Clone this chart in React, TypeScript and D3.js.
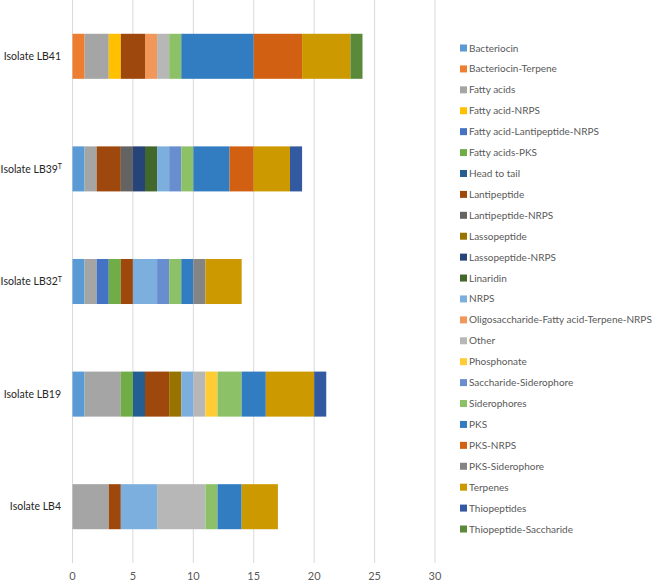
import React from "react";
import * as d3 from "d3";

const isolates = ["Isolate LB41", "Isolate LB39", "Isolate LB32", "Isolate LB19", "Isolate LB4"];
const superscripts = ["", "T", "T", "", ""];

const seriesNames = [
  "Bacteriocin", "Bacteriocin-Terpene", "Fatty acids", "Fatty acid-NRPS",
  "Fatty acid-Lantipeptide-NRPS", "Fatty acids-PKS", "Head to tail", "Lantipeptide",
  "Lantipeptide-NRPS", "Lassopeptide", "Lassopeptide-NRPS", "Linaridin", "NRPS",
  "Oligosaccharide-Fatty acid-Terpene-NRPS", "Other", "Phosphonate",
  "Saccharide-Siderophore", "Siderophores", "PKS", "PKS-NRPS", "PKS-Siderophore",
  "Terpenes", "Thiopeptides", "Thiopeptide-Saccharide",
];

const seriesColors = [
  "#5b9bd5", "#ed7d31", "#a5a5a5", "#ffc000", "#4472c4", "#70ad47", "#255e91", "#9e480e",
  "#636363", "#997300", "#264478", "#43682b", "#7cafdd", "#f1975a", "#b7b7b7", "#ffcd33",
  "#698ed0", "#8cc168", "#327dc2", "#d26012", "#848484", "#cc9a00", "#335aa1", "#5a8a39",
];

// values per isolate, in series order
const lb41 = [0, 1, 2, 1, 0, 0, 0, 2, 0, 0, 0, 0, 0, 1, 1, 0, 0, 1, 6, 4, 0, 4, 0, 1];
const lb39 = [1, 0, 1, 0, 0, 0, 0, 2, 1, 0, 1, 1, 1, 0, 0, 0, 1, 1, 3, 2, 0, 3, 1, 0];
const lb32 = [1, 0, 1, 0, 1, 1, 0, 1, 0, 0, 0, 0, 2, 0, 0, 0, 1, 1, 1, 0, 1, 3, 0, 0];
const lb19 = [1, 0, 3, 0, 0, 1, 1, 2, 0, 1, 0, 0, 1, 0, 1, 1, 0, 2, 2, 0, 0, 4, 1, 0];
const lb4 = [0, 0, 3, 0, 0, 0, 0, 1, 0, 0, 0, 0, 3, 0, 4, 0, 0, 1, 2, 0, 0, 3, 0, 0];

const xTicks = [0, 5, 10, 15, 20, 25, 30];

export default function App() {
  const W = 657, H = 582;
  const left = 72.5, right = 435, top = 0, bottom = 563;
  const rows = [lb41, lb39, lb32, lb19, lb4];
  const x = d3.scaleLinear().domain([0, 30]).range([left, right]);
  const y = d3.scaleBand().domain(isolates).range([top, bottom]).paddingInner(0.6).paddingOuter(0.3);
  const band = y.step();
  const barH = band / 2.5;
  const legendY = d3.scaleLinear().domain([0, seriesNames.length - 1]).range([48, 529]);
  const font = "Lato, 'Open Sans', sans-serif";

  return (
    <svg width={W} height={H} style={{ position: "absolute", left: 0, top: 0, background: "#fff" }}>
      {xTicks.map((t) => (
        <g key={t}>
          <line x1={x(t)} x2={x(t)} y1={top} y2={bottom} stroke="#d9d9d9" strokeWidth={1} />
          <text x={x(t)} y={580} textAnchor="middle" fontSize={11} fill="#595959" fontFamily={font}>{t}</text>
        </g>
      ))}
      {rows.map((vals, i) => {
        const name = isolates[i];
        const cy = top + band * i + band / 2;
        const stackEnds = d3.cumsum(vals);
        return (
          <g key={name}>
            {vals.map((v, j) =>
              v > 0 ? (
                <rect key={j} x={x(stackEnds[j] - v)} y={cy - barH / 2} width={x(stackEnds[j]) - x(stackEnds[j] - v)}
                  height={barH} fill={seriesColors[j]} />
              ) : null
            )}
            <text x={superscripts[i] ? 62 : 61} y={cy} dy="0.35em" textAnchor="end" fontSize={10.5} fill="#262626" fontFamily={font}>
              {name}
              {superscripts[i] ? <tspan fontSize={7} dy="-0.5em">{superscripts[i]}</tspan> : null}
            </text>
          </g>
        );
      })}
      {seriesNames.map((s, k) => (
        <g key={s}>
          <rect x={460} y={legendY(k) - 3.5} width={7} height={7} fill={seriesColors[k]} />
          <text x={469} y={legendY(k)} dy="0.35em" fontSize={10} fill="#595959" fontFamily={font}>{s}</text>
        </g>
      ))}
    </svg>
  );
}
